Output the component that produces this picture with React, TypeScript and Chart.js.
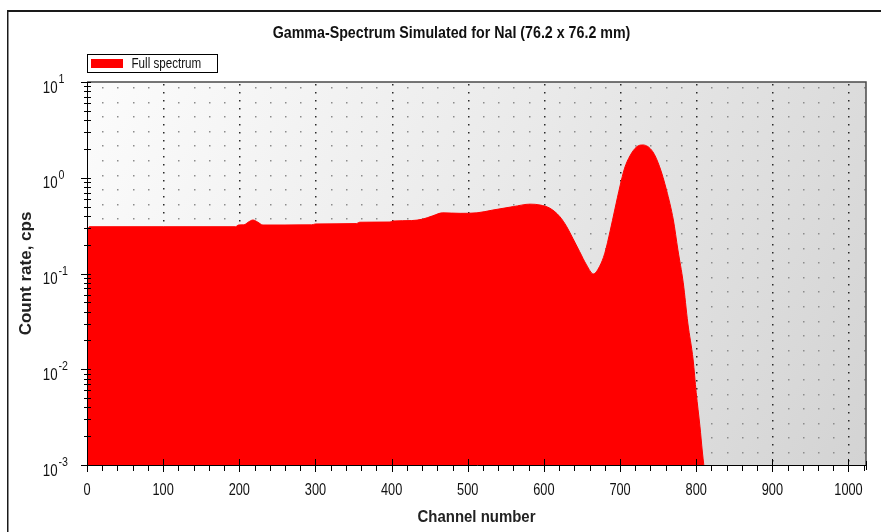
import React, { useEffect, useRef } from "react";
import { Chart, registerables } from "chart.js";

Chart.register(...registerables);

const TITLE = "Gamma-Spectrum Simulated for NaI (76.2 x 76.2 mm)";
const LEGEND_LABEL = "Full spectrum";
const X_TITLE = "Channel number";
const Y_TITLE = "Count rate, cps";

const CHANNELS = [
  0, 3, 100, 195, 199, 206, 212, 218, 224, 231, 260, 295, 300, 354, 358, 398, 402, 426,
  441, 454, 467, 490, 512, 533, 560, 582, 595, 608, 621, 630, 638, 647, 656, 665, 673,
  680, 687, 693, 700, 706, 713, 722, 730, 743, 752, 761, 770, 776, 783, 789, 796, 800,
  805, 808, 810,
];
const COUNTS = [
  0.26, 0.308, 0.308, 0.308, 0.321, 0.322, 0.345, 0.362, 0.345, 0.321, 0.321, 0.322,
  0.329, 0.332, 0.343, 0.345, 0.353, 0.357, 0.37, 0.4, 0.43, 0.425, 0.43, 0.46, 0.5,
  0.53, 0.519, 0.48, 0.392, 0.308, 0.233, 0.169, 0.123, 0.099, 0.118, 0.163, 0.278,
  0.46, 0.82, 1.26, 1.69, 2.11, 2.2, 1.87, 1.3, 0.745, 0.362, 0.176, 0.08, 0.0304,
  0.0125, 0.0057, 0.0025, 0.0014, 0.001,
];

const X_MIN = 0;
const X_MAX = 1023;
const X_MAJOR_STEP = 100;
const X_MINOR_STEP = 20;
const X_LABELS = [0, 100, 200, 300, 400, 500, 600, 700, 800, 900, 1000];
const Y_EXPONENTS = [-3, -2, -1, 0, 1];

const FONT = '"Liberation Sans", Arial, sans-serif';

function text(
  ctx: CanvasRenderingContext2D,
  s: string,
  x: number,
  y: number,
  font: string,
  align: CanvasTextAlign,
  baseline: CanvasTextBaseline,
  sx: number,
  rot = 0
) {
  ctx.save();
  ctx.translate(x, y);
  if (rot) ctx.rotate(rot);
  ctx.scale(sx, 1);
  ctx.font = font;
  ctx.textAlign = align;
  ctx.textBaseline = baseline;
  ctx.fillText(s, 0, 0);
  ctx.restore();
}

const decor = {
  id: "decor",
  beforeDraw(chart: any) {
    const ctx = chart.ctx;
    const a = chart.chartArea;
    ctx.save();
    ctx.fillStyle = "#ffffff";
    ctx.fillRect(0, 0, chart.width, chart.height);
    const g = ctx.createLinearGradient(a.left, a.top, a.right, a.bottom);
    g.addColorStop(0, "#fcfcfc");
    g.addColorStop(0.5, "#e9e9e9");
    g.addColorStop(1, "#d3d3d3");
    ctx.fillStyle = g;
    ctx.fillRect(a.left, a.top, a.right - a.left, a.bottom - a.top);
    const xs = chart.scales.x;
    for (let v = X_MINOR_STEP; v < X_MAX; v += X_MINOR_STEP) {
      const px = Math.round(xs.getPixelForValue(v));
      if (v % X_MAJOR_STEP === 0) {
        ctx.fillStyle = "#2a2a2a";
        for (let y = a.top + 2; y < a.bottom - 1; y += 8) ctx.fillRect(px, Math.round(y), 1.5, 1.5);
      } else {
        ctx.fillStyle = "#8c8c8c";
        for (let y = a.top + 5; y < a.bottom - 2; y += 14.6) ctx.fillRect(px, Math.round(y), 1.5, 1.5);
      }
    }
    ctx.restore();
  },
  afterDraw(chart: any) {
    const ctx = chart.ctx;
    const a = chart.chartArea;
    const xs = chart.scales.x;
    const ys = chart.scales.y;
    ctx.save();
    // frame
    ctx.fillStyle = "#1a1a1a";
    ctx.fillRect(7, 10, chart.width, 2);
    ctx.fillRect(7, 10, 1.5, chart.height);
    // plot border top / right
    ctx.strokeStyle = "#4a4a4a";
    ctx.lineWidth = 1.5;
    ctx.beginPath();
    ctx.moveTo(a.left, a.top);
    ctx.lineTo(a.right, a.top);
    ctx.lineTo(a.right, a.bottom);
    ctx.stroke();
    // axes
    ctx.strokeStyle = "#000";
    ctx.lineWidth = 1;
    ctx.beginPath();
    ctx.moveTo(a.left + 0.5, a.top);
    ctx.lineTo(a.left + 0.5, a.bottom + 0.5);
    ctx.lineTo(a.right + 1, a.bottom + 0.5);
    ctx.stroke();
    // x ticks
    for (let v = X_MIN; v <= X_MAX; v += X_MINOR_STEP) {
      const px = Math.round(xs.getPixelForValue(v)) + 0.5;
      const major = v % X_MAJOR_STEP === 0;
      ctx.beginPath();
      ctx.moveTo(px, major ? a.bottom - 6 : a.bottom);
      ctx.lineTo(px, a.bottom + (major ? 7 : 6));
      ctx.stroke();
    }
    {
      const px = Math.round(xs.getPixelForValue(X_MAX)) + 0.5;
      ctx.beginPath();
      ctx.moveTo(px, a.bottom - 4);
      ctx.lineTo(px, a.bottom + 5);
      ctx.stroke();
    }
    // y ticks
    const eMin = Y_EXPONENTS[0];
    const eMax = Y_EXPONENTS[Y_EXPONENTS.length - 1];
    for (let e = eMin; e <= eMax; e++) {
      for (let k = 1; k <= 9; k++) {
        if (e === eMax && k > 1) break;
        const val = k * Math.pow(10, e);
        const py = Math.round(ys.getPixelForValue(val)) + 0.5;
        ctx.beginPath();
        ctx.moveTo(k === 1 ? a.left - 6 : a.left - 3, py);
        ctx.lineTo(a.left + 4, py);
        ctx.stroke();
      }
    }
    ctx.fillStyle = "#111";
    // x tick labels
    for (const v of X_LABELS) {
      const px = xs.getPixelForValue(v);
      text(ctx, String(v), px, a.bottom + 30, `17px ${FONT}`, "center", "alphabetic", 0.75);
    }
    // y labels with superscript
    for (const e of Y_EXPONENTS) {
      const py = ys.getPixelForValue(Math.pow(10, e));
      text(ctx, "10", 57.5, py + 10.5, `17px ${FONT}`, "right", "alphabetic", 0.78);
      text(ctx, String(e), 58.5, py + 1, `13px ${FONT}`, "left", "alphabetic", 0.82);
    }
    // axis titles
    ctx.fillStyle = "#222";
    text(ctx, X_TITLE, (a.left + a.right) / 2, 522, `bold 16px ${FONT}`, "center", "alphabetic", 0.935);
    text(ctx, Y_TITLE, 26.5, (a.top + a.bottom) / 2, `bold 17px ${FONT}`, "center", "middle", 1, -Math.PI / 2);
    // title
    ctx.fillStyle = "#111";
    text(ctx, TITLE, 451.5, 34, `bold 16px ${FONT}`, "center", "middle", 0.89);
    // legend
    ctx.strokeStyle = "#000";
    ctx.lineWidth = 1;
    ctx.strokeRect(87.5, 54.5, 130, 18);
    ctx.fillStyle = "#ff0000";
    ctx.fillRect(91, 59, 32, 9);
    ctx.fillStyle = "#111";
    text(ctx, LEGEND_LABEL, 131.5, 64, `14px ${FONT}`, "left", "middle", 0.83);
    ctx.restore();
  },
};

export default function App() {
  const ref = useRef<HTMLCanvasElement | null>(null);
  useEffect(() => {
    if (!ref.current) return;
    const chart = new Chart(ref.current, {
      type: "line",
      data: {
        datasets: [
          {
            label: LEGEND_LABEL,
            data: CHANNELS.map((c, i) => ({ x: c, y: COUNTS[i] })),
            fill: "start",
            backgroundColor: "#ff0000",
            borderColor: "#ff0000",
            borderWidth: 1,
            pointRadius: 0,
            cubicInterpolationMode: "monotone",
          },
        ],
      },
      options: {
        animation: false,
        responsive: false,
        maintainAspectRatio: false,
        layout: { padding: { top: 82, right: 15, left: 0, bottom: 0 } },
        plugins: {
          legend: { display: false },
          title: { display: false },
          tooltip: { enabled: false },
        },
        scales: {
          x: {
            type: "linear",
            min: X_MIN,
            max: X_MAX,
            grid: { display: false, drawTicks: false },
            border: { display: false },
            ticks: { display: false },
            afterFit: (s: any) => {
              s.height = 67;
            },
          },
          y: {
            type: "logarithmic",
            min: 0.001,
            max: 10,
            grid: { display: false, drawTicks: false },
            border: { display: false },
            ticks: { display: false },
            afterFit: (s: any) => {
              s.width = 87;
            },
          },
        },
      },
      plugins: [decor],
    } as any);
    return () => chart.destroy();
  }, []);
  return (
    <div style={{ position: "fixed", left: 0, top: 0, width: 881, height: 532 }}>
      <canvas ref={ref} width={881} height={532} />
    </div>
  );
}
